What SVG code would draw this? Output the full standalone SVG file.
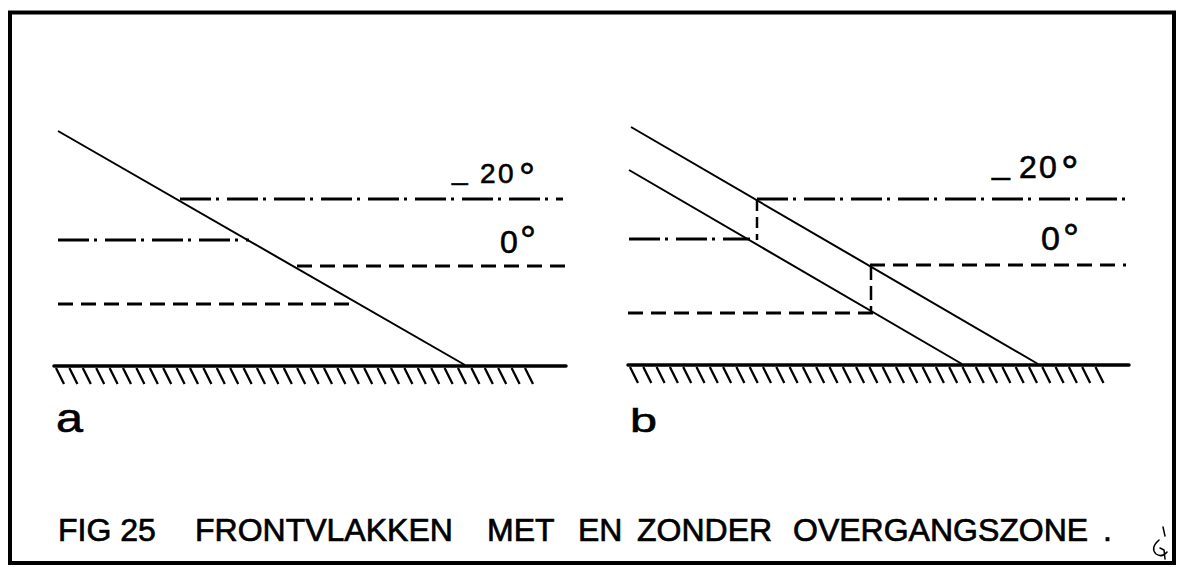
<svg xmlns="http://www.w3.org/2000/svg" width="1183" height="567" viewBox="0 0 1183 567">
<style>
.frame{fill:none;stroke:#000;stroke-width:4}
.solid{fill:none;stroke:#000;stroke-width:2}
.ground{fill:none;stroke:#000;stroke-width:3.5;stroke-linecap:round}
.hatch{fill:none;stroke:#000;stroke-width:2.3}
.dashdot{fill:none;stroke:#000;stroke-width:3;stroke-dasharray:31 5 3 8}
.dashed{fill:none;stroke:#000;stroke-width:3;stroke-dasharray:15 8}
.vdash{fill:none;stroke:#000;stroke-width:2.5;stroke-dasharray:11 6}
text{font-family:"Liberation Sans",Arial,sans-serif;fill:#000}
.cap{font-size:32px;stroke:#000;stroke-width:0.7}
.lbl{stroke:#000;stroke-width:0.6}
</style>
<rect width="1183" height="567" fill="#fff"/>
<rect class="frame" x="10" y="12.5" width="1164" height="550.5"/>

<g id="panel-a">
  <line class="solid" x1="58" y1="131" x2="465" y2="365"/>
  <line class="ground" x1="54" y1="366" x2="566" y2="366"/>
  <path class="hatch" d="M56 368 l8 16 m5.4 -16 l8 16 m5.4 -16 l8 16 m5.4 -16 l8 16 m5.4 -16 l8 16 m5.4 -16 l8 16 m5.4 -16 l8 16 m5.4 -16 l8 16 m5.4 -16 l8 16 m5.4 -16 l8 16 m5.4 -16 l8 16 m5.4 -16 l8 16 m5.4 -16 l8 16 m5.4 -16 l8 16 m5.4 -16 l8 16 m5.4 -16 l8 16 m5.4 -16 l8 16 m5.4 -16 l8 16 m5.4 -16 l8 16 m5.4 -16 l8 16 m5.4 -16 l8 16 m5.4 -16 l8 16 m5.4 -16 l8 16 m5.4 -16 l8 16 m5.4 -16 l8 16 m5.4 -16 l8 16 m5.4 -16 l8 16 m5.4 -16 l8 16 m5.4 -16 l8 16 m5.4 -16 l8 16 m5.4 -16 l8 16 m5.4 -16 l8 16 m5.4 -16 l8 16 m5.4 -16 l8 16 m5.4 -16 l8 16 m5.4 -16 l8 16"/>
  <line class="dashdot" x1="180" y1="199" x2="563" y2="199"/>
  <line class="dashdot" x1="58" y1="240" x2="249" y2="240"/>
  <line class="dashed" x1="297" y1="266" x2="567" y2="266"/>
  <line class="dashed" x1="58" y1="304" x2="357" y2="304"/>
  <text class="lbl" font-size="28" y="183"><tspan x="452" dy="-4">_</tspan><tspan x="480 498" dy="4">20</tspan><tspan x="519" dy="8" font-size="40">°</tspan></text>
  <text class="lbl" font-size="32" y="253"><tspan x="500">0</tspan><tspan x="520" dy="1" font-size="40">°</tspan></text>
  <text class="lbl" font-size="40" x="56" y="432" textLength="27" lengthAdjust="spacingAndGlyphs">a</text>
</g>

<g id="panel-b">
  <line class="solid" x1="631" y1="127" x2="1038" y2="364"/>
  <line class="solid" x1="629" y1="170" x2="962" y2="364"/>
  <line class="ground" x1="628" y1="365" x2="1129" y2="365"/>
  <path class="hatch" d="M630 367 l8 16 m5.3 -16 l8 16 m5.3 -16 l8 16 m5.3 -16 l8 16 m5.3 -16 l8 16 m5.3 -16 l8 16 m5.3 -16 l8 16 m5.3 -16 l8 16 m5.3 -16 l8 16 m5.3 -16 l8 16 m5.3 -16 l8 16 m5.3 -16 l8 16 m5.3 -16 l8 16 m5.3 -16 l8 16 m5.3 -16 l8 16 m5.3 -16 l8 16 m5.3 -16 l8 16 m5.3 -16 l8 16 m5.3 -16 l8 16 m5.3 -16 l8 16 m5.3 -16 l8 16 m5.3 -16 l8 16 m5.3 -16 l8 16 m5.3 -16 l8 16 m5.3 -16 l8 16 m5.3 -16 l8 16 m5.3 -16 l8 16 m5.3 -16 l8 16 m5.3 -16 l8 16 m5.3 -16 l8 16 m5.3 -16 l8 16 m5.3 -16 l8 16 m5.3 -16 l8 16 m5.3 -16 l8 16 m5.3 -16 l8 16 m5.3 -16 l8 16"/>
  <line class="dashdot" x1="757" y1="199" x2="1133" y2="199"/>
  <line class="dashdot" x1="629" y1="239" x2="750" y2="239"/>
  <line class="vdash" x1="757" y1="200" x2="757" y2="240"/>
  <line class="dashed" x1="870" y1="265" x2="1126" y2="265"/>
  <line class="dashed" x1="628" y1="313" x2="873" y2="313"/>
  <line class="vdash" x1="871" y1="266" x2="871" y2="313" style="stroke-dasharray:14 6"/>
  <text class="lbl" font-size="32" y="178"><tspan x="992" dy="-4">_</tspan><tspan x="1019 1039" dy="4">20</tspan><tspan x="1061" dy="9" font-size="44">°</tspan></text>
  <text class="lbl" font-size="34" y="250"><tspan x="1041">0</tspan><tspan x="1063" dy="2" font-size="40">°</tspan></text>
  <text class="lbl" font-size="34" x="630" y="432" textLength="27" lengthAdjust="spacingAndGlyphs">b</text>
</g>

<g id="caption">
  <text class="cap" y="541"><tspan x="58">FIG 25 </tspan><tspan x="195">FRONTVLAKKEN </tspan><tspan x="487">MET </tspan><tspan x="578">EN </tspan><tspan x="637">ZONDER </tspan><tspan x="793">OVERGANGSZONE</tspan><tspan x="1103">.</tspan></text>
</g>

<path id="mark" d="M1163 527 L1165 536 M1159 540 Q1150 548 1156 554 Q1162 558 1167 552 M1160 548 L1164 550 L1165 559" fill="none" stroke="#000" stroke-width="1.5" stroke-linecap="round"/>
</svg>
